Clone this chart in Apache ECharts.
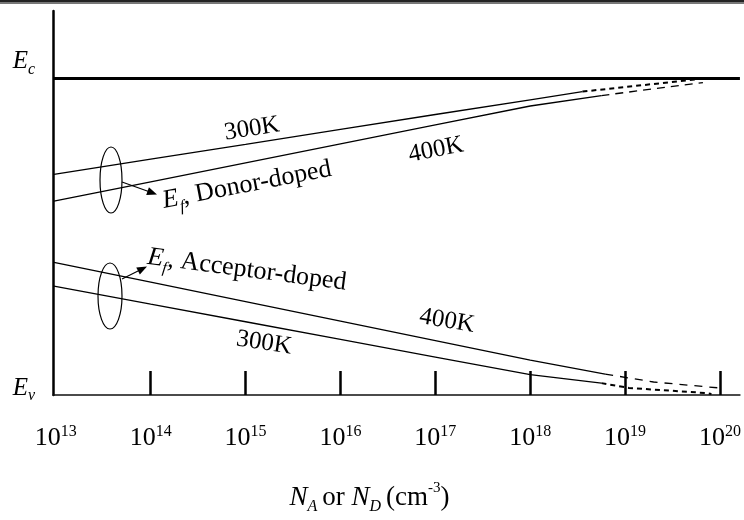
<!DOCTYPE html>
<html><head><meta charset="utf-8">
<script src="https://cdn.jsdelivr.net/npm/echarts@6/dist/echarts.min.js"></script>
<style>html,body{margin:0;padding:0;background:#fff}#c{width:744px;height:520px}</style>
</head><body><div id="c"></div>
<script>
// x = log10(N_A or N_D / cm^-3), y = energy above Ev (eV)
const tickExponents = [13, 14, 15, 16, 17, 18, 19, 20];
const bandEdges = { Ev: 0, Ec: 1.12 };
const donor300Solid = [[12.98,0.780],[14,0.834],[15,0.886],[16,0.939],[17,0.992],[18,1.044],[18.55,1.073]];
const donor300Dashed = [[18.55,1.073],[19.75,1.116]];
const donor400Solid = [[12.98,0.686],[14,0.754],[15,0.821],[16,0.888],[17,0.955],[18,1.022],[18.75,1.059]];
const donor400Dashed = [[18.75,1.059],[19.82,1.105]];
const acceptor400Solid = [[12.98,0.469],[14,0.399],[15,0.330],[16,0.261],[17,0.192],[18,0.123],[18.79,0.074]];
const acceptor400Dashed = [[18.79,0.074],[19.3,0.046],[19.99,0.025]];
const acceptor300Solid = [[12.98,0.385],[14,0.321],[15,0.259],[16,0.197],[17,0.134],[18,0.072],[18.75,0.042]];
const acceptor300Dashed = [[18.75,0.042],[19.04,0.025],[19.85,0.007],[19.91,0.0035]];

const SERIF = '"Liberation Serif", "Times New Roman", serif';
const chart = echarts.init(document.getElementById('c'), null, { renderer: 'canvas' });

function seg(data, dash, width) {
  return {
    type: 'line', data: data, symbol: 'none', silent: true, animation: false,
    lineStyle: { color: '#000', width: width, type: dash || 'solid' }
  };
}

const series = [
  seg(donor300Solid, null, 1.3),
  seg(donor300Dashed, [5, 4], 2),
  seg(donor400Solid, null, 1.3),
  seg(donor400Dashed, [8, 6], 1.3),
  seg(acceptor400Solid, null, 1.3),
  seg(acceptor400Dashed, [8, 7], 1.3),
  seg(acceptor300Solid, null, 1.3),
  seg(acceptor300Dashed, [5, 4], 2)
];
series[0].markLine = {
  silent: true, symbol: 'none', animation: false, label: { show: false },
  lineStyle: { color: '#000', width: 3, type: 'solid' },
  data: [{ yAxis: bandEdges.Ec }]
};

function arrowHead(tx, ty, dx, dy) {
  const L = Math.hypot(dx, dy), ux = dx / L, uy = dy / L;
  const bx = tx - 10 * ux, by = ty - 10 * uy;
  return [[tx, ty], [bx - 4 * uy, by + 4 * ux], [bx + 4 * uy, by - 4 * ux]];
}

const F = (style, size) => style + ' ' + size + 'px ' + SERIF;
const plainRich = { t: { font: F('normal', 25), fill: '#000', lineHeight: 28 } };
const efRich = {
  e: { font: F('italic', 26), fill: '#000', lineHeight: 28 },
  f: { font: F('italic', 16), fill: '#000', verticalAlign: 'bottom', lineHeight: 34 },
  t: { font: F('normal', 26), fill: '#000', lineHeight: 28 }
};
const txt = (x, y, rot, text, rich) => ({
  type: 'text', x: x, y: y, rotation: rot,
  style: { text: text, rich: rich, fill: '#000', textAlign: 'center', textVerticalAlign: 'middle' }
});

chart.setOption({
  animation: false,
  grid: { left: 53, right: 2, top: 11, bottom: 123, containLabel: false },
  xAxis: {
    type: 'value', min: 12.97, max: 20.21,
    axisLine: { show: true, onZero: false, lineStyle: { color: '#111', width: 1.5 } },
    axisTick: { show: true, inside: true, length: 24, customValues: tickExponents.slice(1),
                lineStyle: { color: '#000', width: 2.5 } },
    splitLine: { show: false },
    axisLabel: {
      customValues: tickExponents, margin: 29,
      formatter: v => '{b|10}{s|' + Math.round(v) + '}',
      rich: {
        b: { fontFamily: SERIF, fontSize: 26, color: '#000', lineHeight: 28 },
        s: { fontFamily: SERIF, fontSize: 16, color: '#000', verticalAlign: 'top', lineHeight: 28 }
      }
    },
    name: '{i|N}{sub|A}{r|or }{i|N}{sub|D}{r|(cm}{sup|-3}{r|)}',
    nameLocation: 'middle', nameGap: 86,
    nameTextStyle: {
      padding: [0, 54, 0, 0],
      rich: {
        i: { fontFamily: SERIF, fontSize: 27, fontStyle: 'italic', color: '#000', lineHeight: 28 },
        sub: { fontFamily: SERIF, fontSize: 16, fontStyle: 'italic', color: '#000', verticalAlign: 'bottom', lineHeight: 34, padding: [0, 5, 0, 0] },
        r: { fontFamily: SERIF, fontSize: 27, color: '#000', lineHeight: 28 },
        sup: { fontFamily: SERIF, fontSize: 15, color: '#000', verticalAlign: 'top', lineHeight: 28 }
      }
    }
  },
  yAxis: {
    type: 'value', min: 0, max: 1.358,
    axisLine: { show: true, lineStyle: { color: '#000', width: 2.5 } },
    axisTick: { show: false },
    splitLine: { show: false },
    axisLabel: {
      customValues: [bandEdges.Ev, bandEdges.Ec], margin: 18, verticalAlign: 'middle',
      formatter: v => v > 0.5 ? '{e|E}{s|c}\n{gc|}' : '{e|E}{s|v}\n{gv|}',
      rich: {
        e: { fontFamily: SERIF, fontSize: 25, fontStyle: 'italic', color: '#000', lineHeight: 26 },
        s: { fontFamily: SERIF, fontSize: 16, fontStyle: 'italic', color: '#000', verticalAlign: 'bottom', lineHeight: 32 },
        gc: { fontSize: 1, lineHeight: 34 },
        gv: { fontSize: 1, lineHeight: 14 }
      }
    }
  },
  series: series,
  graphic: [
    { type: 'rect', shape: { x: 0, y: 0, width: 744, height: 2 }, style: { fill: '#222' } },
    { type: 'rect', shape: { x: 0, y: 2, width: 744, height: 2 }, style: { fill: '#777' } },
    // donor annotation
    { type: 'ellipse', shape: { cx: 111, cy: 180, rx: 11, ry: 33 }, style: { fill: 'none', stroke: '#000', lineWidth: 1.2 } },
    { type: 'line', shape: { x1: 122, y1: 182, x2: 150, y2: 192 }, style: { stroke: '#000', lineWidth: 1.2 } },
    { type: 'polygon', shape: { points: arrowHead(157, 194.5, 28, 10) }, style: { fill: '#000' } },
    // acceptor annotation
    { type: 'ellipse', shape: { cx: 110, cy: 296, rx: 12, ry: 33 }, style: { fill: 'none', stroke: '#000', lineWidth: 1.2 } },
    { type: 'line', shape: { x1: 122, y1: 279, x2: 140, y2: 270 }, style: { stroke: '#000', lineWidth: 1.2 } },
    { type: 'polygon', shape: { points: arrowHead(147, 266.5, 24, -12) }, style: { fill: '#000' } },
    txt(252, 129, 0.155, '{t|300K}', plainRich),
    txt(436, 150, 0.19, '{t|400K}', plainRich),
    txt(447, 321, -0.17, '{t|400K}', plainRich),
    txt(264, 343, -0.15, '{t|300K}', plainRich),
    txt(247, 185, 0.19, '{e|E}{f|f}{t|, Donor-doped}', efRich),
    txt(247, 270, -0.13, '{e|E}{f|f}{t|, Acceptor-doped}', efRich)
  ]
});
</script></body></html>
